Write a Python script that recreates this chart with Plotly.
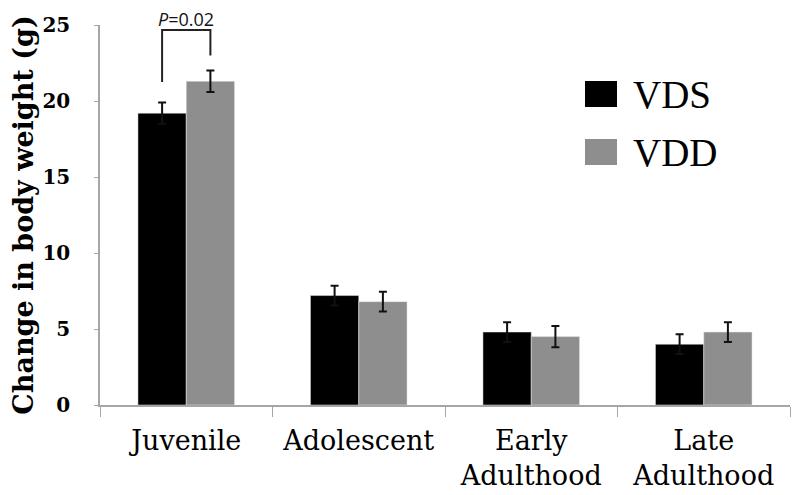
import plotly.graph_objects as go

categories = ["Juvenile", "Adolescent", "Early<br>Adulthood", "Late<br>Adulthood"]
vds_values = [19.2, 7.2, 4.8, 4.0]
vds_err = [0.7, 0.65, 0.65, 0.65]
vdd_values = [21.3, 6.8, 4.5, 4.8]
vdd_err = [0.7, 0.65, 0.7, 0.65]
y_ticks = [0, 5, 10, 15, 20, 25]
p_text = "<i>P</i>=0.02"

serif = "DejaVu Serif"

# plot area (page pixels) used to place the manual legend in paper units
PX0, PX1, PY0, PY1 = 100, 790, 405, 25
def px(x):
    return (x - PX0) / (PX1 - PX0)
def py(y):
    return (PY0 - y) / (PY0 - PY1)

fig = go.Figure()
fig.add_trace(go.Bar(
    x=categories, y=vds_values, name="VDS", marker_color="#000000",
    error_y=dict(type="data", array=vds_err, color="#111111", thickness=2, width=4),
    showlegend=False,
))
fig.add_trace(go.Bar(
    x=categories, y=vdd_values, name="VDD", marker_color="#8e8e8e",
    error_y=dict(type="data", array=vdd_err, color="#111111", thickness=2, width=4),
    showlegend=False,
))

# significance bracket (Juvenile)
fig.add_shape(type="path", xref="x", yref="y",
              path="M -0.14,21.25 L -0.14,24.67 L 0.14,24.67 L 0.14,23.0",
              line=dict(color="#222222", width=2))
fig.add_annotation(x=0.0, y=py(19), xref="x", yref="paper", text=p_text, showarrow=False,
                   yanchor="middle", font=dict(family="Open Sans", size=18, color="#111111"))

# legend (manual, large swatches)
fig.add_shape(type="rect", xref="paper", yref="paper", x0=px(585), x1=px(617),
              y0=py(107), y1=py(81), fillcolor="#000000", line=dict(width=0))
fig.add_shape(type="rect", xref="paper", yref="paper", x0=px(585), x1=px(617),
              y0=py(165), y1=py(139), fillcolor="#8e8e8e", line=dict(width=0))
fig.add_annotation(x=px(631), y=py(94), xref="paper", yref="paper", text="VDS",
                   showarrow=False, xanchor="left", yanchor="middle",
                   font=dict(family="Liberation Serif", size=39, color="#000000"))
fig.add_annotation(x=px(631), y=py(152), xref="paper", yref="paper", text="VDD",
                   showarrow=False, xanchor="left", yanchor="middle",
                   font=dict(family="Liberation Serif", size=39, color="#000000"))

fig.update_layout(
    width=792, height=487,
    margin=dict(l=92, r=10, t=17, b=90, autoexpand=False),
    plot_bgcolor="white", paper_bgcolor="white",
    barmode="group", bargap=0.44, bargroupgap=0,
    showlegend=False,
    xaxis=dict(
        automargin=False,
        showline=True, linecolor="#a6a6a6", linewidth=1.5,
        ticks="outside", tickson="boundaries", ticklen=10, tickcolor="#a6a6a6",
        tickfont=dict(family=serif, size=27, color="#000000"),
        ticklabelstandoff=11,
        showgrid=False, range=[-0.5, 3.5],
    ),
    yaxis=dict(
        automargin=False,
        range=[0, 25], tickvals=y_ticks,
        showline=True, linecolor="#a6a6a6", linewidth=1.5,
        ticks="outside", ticklen=4, tickcolor="#a6a6a6",
        tickfont=dict(family=serif, size=20, color="#000000", weight="bold"),
        ticklabelstandoff=20,
        showgrid=False, zeroline=False,
        title=dict(text="Change in body weight (g)", standoff=8,
                   font=dict(family=serif, size=27, color="#000000", weight="bold")),
    ),
)

fig.write_html("out.html")
